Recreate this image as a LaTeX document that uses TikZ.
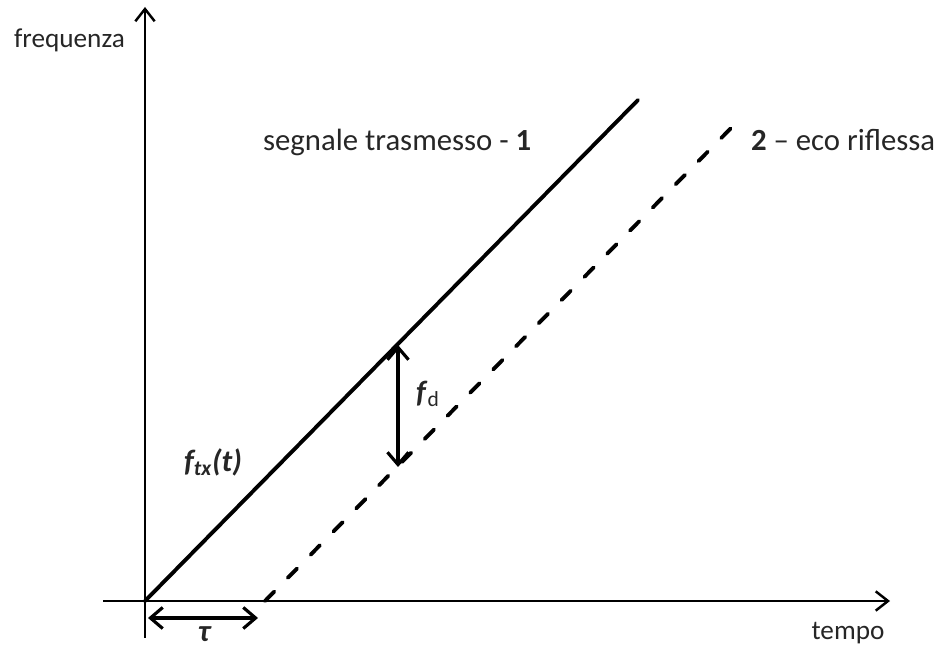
\documentclass[tikz,border=0pt]{standalone}
\usepackage{fontspec}
\setmainfont{Carlito}
\usepackage{xcolor}
\usepackage{tikz}
\usetikzlibrary{calc,positioning,arrows.meta}

\tikzset{
  axis/.style={line width=1.4pt,-{Straight Barb[length=7pt,width=11pt,line width=1.4pt]}},
  chirp/.style={line width=2.2pt,line cap=round},
  gap/.style={line width=2pt,{Straight Barb[length=7pt,width=12pt,line width=1.8pt]}-{Straight Barb[length=7pt,width=12pt,line width=1.8pt]}},
  lbl/.style={font=\fontsize{17.5}{21}\selectfont,inner sep=1pt,text=black!85},
  axlbl/.style={lbl,font=\fontsize{15.5}{18}\selectfont}
}

\begin{document}
\begin{tikzpicture}[x=0.02cm,y=-0.02cm]
    \useasboundingbox (0,0) rectangle (941,648);
    % assi
    \coordinate (orig) at (145,601);
    \coordinate (ybot) at (145,638);
    \coordinate (ytop) at (145,7);
    \coordinate (xbeg) at (103,601);
    \coordinate (xend) at (890,601);
    \draw[axis] (ybot) -- (ytop);
    \draw[axis] (xbeg) -- (xend);
    \node[axlbl,anchor=east] (freq) at (127,40) {frequenza};
    \node[axlbl] (tempo) at (848,633) {tempo};
    % segnali
    \coordinate (txend) at (638,100);
    \coordinate (ecobeg) at (265,601);
    \coordinate (ecoend) at (740,119);
    \draw[chirp] (orig) -- (txend);
    \draw[chirp,dash pattern=on 7.5pt off 11pt] (ecobeg) -- (ecoend);
    \node[lbl,anchor=west] (tx) at (261,142) {segnale trasmesso - \textbf{1}};
    \node[lbl,anchor=west] (eco) at (749,140) {\textbf{2} -- eco riflessa};
    \node[lbl] (ftx) at (213,462) {\textbf{\textit{f\textsubscript{tx}(t)}}};
    % ritardo e doppler
    \coordinate (tauL) at (148,618);
    \coordinate (tauR) at (258,618);
    \draw[gap] (tauL) -- (tauR);
    \node[lbl] (tau) at (205,634) {\textbf{\textit{τ}}};
    \coordinate (fdT) at (398,345);
    \coordinate (fdB) at (398,467);
    \draw[gap] (fdT) -- (fdB);
    \node[lbl] (fd) at (428,394) {\textbf{\textit{f}}\textsubscript{d}};
\end{tikzpicture}
\end{document}
